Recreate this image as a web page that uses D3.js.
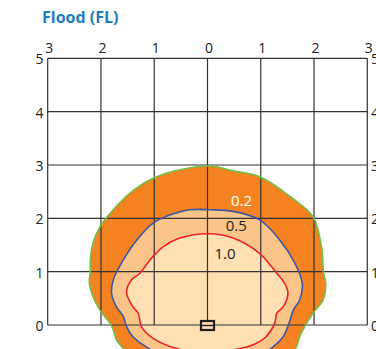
<html>
<head>
<script src="https://d3js.org/d3.v7.min.js"></script>
<style>
  body { margin: 0; background: #fff; }
  svg { display: block; font-family: "Open Sans", sans-serif; }
</style>
</head>
<body>
<svg width="376" height="349"></svg>
<script>
// axis ticks (horizontal distance either side, height)
const xTicks = [-3, -2, -1, 0, 1, 2, 3];
const yTicks = [0, 1, 2, 3, 4, 5];

// isolux contours, [x, y] in grid units
const contour02 = [[-1.61,-0.41],[-1.71,-0.28],[-1.77,-0.09],[-1.83,0.03],[-2.02,0.28],[-2.15,0.53],[-2.22,0.81],
  [-2.20,0.98],[-2.20,1.22],[-2.15,1.53],[-2.02,1.84],[-1.83,2.09],[-1.46,2.47],[-1.02,2.75],[-0.52,2.91],
  [0.04,2.98],[0.48,2.89],[0.98,2.78],[1.55,2.41],[1.98,2.03],[2.14,1.47],[2.18,0.97],[2.22,0.78],[2.17,0.47],
  [1.98,0.22],[1.86,0.03],[1.73,-0.22],[1.67,-0.41],[1.40,-0.75],[0.80,-0.95],[0,-1.0],[-0.80,-0.95],[-1.35,-0.72]];
const contour05 = [[-1.15,-0.41],[-1.40,-0.22],[-1.52,-0.03],[-1.58,0.16],[-1.71,0.34],[-1.80,0.59],[-1.77,0.84],
  [-1.58,1.22],[-1.33,1.59],[-1.02,1.91],[-0.71,2.06],[-0.33,2.16],[0.04,2.16],[0.48,2.13],[0.98,1.97],
  [1.36,1.59],[1.64,1.16],[1.78,0.78],[1.73,0.47],[1.61,0.28],[1.53,0.03],[1.42,-0.22],[1.23,-0.41],
  [0.90,-0.62],[0.40,-0.74],[-0.20,-0.75],[-0.75,-0.62]];
const contour10 = [[-0.58,-0.44],[-1.02,-0.25],[-1.24,-0.03],[-1.30,0.22],[-1.40,0.34],[-1.52,0.62],[-1.43,0.84],
  [-1.27,0.97],[-1.08,1.22],[-0.83,1.47],[-0.52,1.63],[0.04,1.71],[0.48,1.63],[0.98,1.34],[1.30,0.97],
  [1.45,0.78],[1.51,0.59],[1.42,0.34],[1.30,0.22],[1.26,0.03],[1.10,-0.22],[0.90,-0.35],[0.61,-0.44],[0,-0.52]];

const levels = ["0.2", "0.5", "1.0"];
const levelAt = [[0.64, 2.23], [0.54, 1.76], [0.33, 1.24]];

const svg = d3.select("svg");
const x = d3.scaleLinear().domain([-3, 3]).range([47.7, 367.3]);
const y = d3.scaleLinear().domain([0, 5]).range([325, 58.3]);

const line = d3.line()
  .x(function(d) { return x(d[0]); })
  .y(function(d) { return y(d[1]); })
  .curve(d3.curveCatmullRomClosed.alpha(0.5));

const shapes = [
  { pts: contour02, fill: "#f58220", stroke: "#72bf44" },
  { pts: contour05, fill: "#fbc589", stroke: "#3d56a6" },
  { pts: contour10, fill: "#fee0b3", stroke: "#ec2227" }
];

// fills
svg.append("g").selectAll("path").data(shapes).enter().append("path")
  .attr("d", function(d) { return line(d.pts); })
  .attr("fill", function(d) { return d.fill; });

// grid
const grid = svg.append("g").attr("stroke", "#333").attr("stroke-width", 1.2);
grid.selectAll(".v").data(xTicks).enter().append("line")
  .attr("x1", function(d) { return x(d); }).attr("x2", function(d) { return x(d); })
  .attr("y1", y(0)).attr("y2", y(5));
grid.selectAll(".h").data(yTicks).enter().append("line")
  .attr("x1", x(-3)).attr("x2", x(3))
  .attr("y1", function(d) { return y(d); }).attr("y2", function(d) { return y(d); });

// contour outlines
svg.append("g").selectAll("path").data(shapes).enter().append("path")
  .attr("d", function(d) { return line(d.pts); })
  .attr("fill", "none")
  .attr("stroke", function(d) { return d.stroke; })
  .attr("stroke-width", 1.6);

// luminaire marker
const m = svg.append("g").attr("transform", "translate(" + x(0) + "," + (y(0) + 0.5) + ")");
m.append("rect").attr("x", -6.5).attr("y", -4.5).attr("width", 13).attr("height", 9)
  .attr("fill", "#fee0b3").attr("stroke", "#222").attr("stroke-width", 2.2);
m.append("line").attr("x1", -6).attr("x2", 6).attr("y1", 0).attr("y2", 0)
  .attr("stroke", "#222").attr("stroke-width", 1.4);

// tick labels
svg.append("g").selectAll("text").data(xTicks).enter().append("text")
  .attr("x", function(d) { return x(d) + 1.5; })
  .attr("y", 52.5)
  .attr("text-anchor", "middle")
  .attr("font-size", 14).attr("fill", "#222")
  .text(function(d) { return Math.abs(d); });
svg.append("g").selectAll("text").data(yTicks).enter().append("text")
  .attr("x", 43.5)
  .attr("y", function(d) { return y(d) + 6; })
  .attr("text-anchor", "end")
  .attr("font-size", 14).attr("fill", "#222")
  .text(function(d) { return d; });
svg.append("g").selectAll("text").data(yTicks).enter().append("text")
  .attr("x", 371)
  .attr("y", function(d) { return y(d) + 6; })
  .attr("font-size", 14).attr("fill", "#222")
  .text(function(d) { return d; });

// level labels
svg.append("g").selectAll("text").data(levels).enter().append("text")
  .attr("x", function(d, i) { return x(levelAt[i][0]); })
  .attr("y", function(d, i) { return y(levelAt[i][1]); })
  .attr("text-anchor", "middle")
  .attr("font-size", 15)
  .attr("fill", function(d, i) { return i == 0 ? "#fff" : "#222"; })
  .text(function(d) { return d; });

// title
svg.append("text")
  .attr("x", 42).attr("y", 23)
  .attr("font-size", 16).attr("font-weight", "bold").attr("fill", "#1b7dc3")
  .text("Flood (FL)");
</script>
</body>
</html>
